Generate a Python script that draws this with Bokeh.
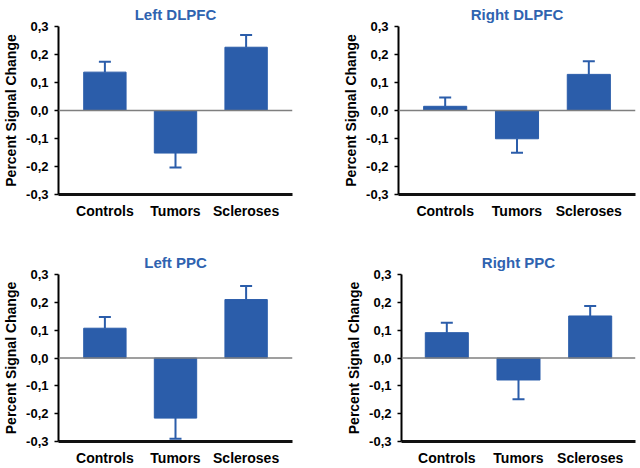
from bokeh.plotting import figure
from bokeh.models import Whisker, TeeHead, Span, ColumnDataSource, FixedTicker, FactorRange, Range1d
from bokeh.layouts import column, row
from bokeh.embed import file_html
from bokeh.resources import INLINE

categories = ["Controls", "Tumors", "Scleroses"]
panel_titles = ["Left DLPFC", "Right DLPFC", "Left PPC", "Right PPC"]

left_dlpfc_mean = [0.137, -0.152, 0.226]
left_dlpfc_err = [0.037, 0.052, 0.044]
right_dlpfc_mean = [0.015, -0.101, 0.129]
right_dlpfc_err = [0.031, 0.050, 0.047]
left_ppc_mean = [0.107, -0.216, 0.210]
left_ppc_err = [0.040, 0.074, 0.049]
right_ppc_mean = [0.091, -0.079, 0.151]
right_ppc_err = [0.036, 0.069, 0.036]

yticks = [-0.3, -0.2, -0.1, 0.0, 0.1, 0.2, 0.3]
ytick_labels = ["-0,3", "-0,2", "-0,1", "0,0", "0,1", "0,2", "0,3"]

BAR = "#2B5DAA"
TITLE_C = "#2F63B0"
FONT = "Liberation Sans"


def make_panel(title, means, errs, width, height, left, right, top, bottom, pad, standoff):
    p = figure(
        x_range=FactorRange(factors=categories, range_padding=pad, range_padding_units="absolute"),
        y_range=Range1d(-0.3, 0.3),
        width=width, height=height,
        output_backend="svg", toolbar_location=None,
        min_border_left=left, min_border_right=right,
        min_border_top=top, min_border_bottom=bottom,
    )
    p.vbar(x=categories, top=means, bottom=0, width=0.6, fill_color=BAR, line_color=BAR)

    pos = [i for i, m in enumerate(means) if m >= 0]
    neg = [i for i, m in enumerate(means) if m < 0]
    src_pos = ColumnDataSource(dict(
        base=[categories[i] for i in pos],
        lower=[means[i] for i in pos],
        upper=[means[i] + errs[i] for i in pos],
    ))
    src_neg = ColumnDataSource(dict(
        base=[categories[i] for i in neg],
        lower=[means[i] - errs[i] for i in neg],
        upper=[means[i] for i in neg],
    ))
    p.add_layout(Whisker(source=src_pos, base="base", lower="lower", upper="upper",
                         line_color=BAR, line_width=2,
                         upper_head=TeeHead(size=12, line_color=BAR, line_width=2),
                         lower_head=None))
    p.add_layout(Whisker(source=src_neg, base="base", lower="lower", upper="upper",
                         line_color=BAR, line_width=2,
                         lower_head=TeeHead(size=12, line_color=BAR, line_width=2),
                         upper_head=None))
    p.add_layout(Span(location=0, dimension="width", line_color="#7F7F7F", line_width=1.5))

    p.title.text = title
    p.title.align = "center"
    p.title.text_font = FONT
    p.title.text_font_style = "bold"
    p.title.text_font_size = "15px"
    p.title.text_color = TITLE_C
    p.title.standoff = standoff

    p.xgrid.visible = False
    p.ygrid.visible = False
    p.outline_line_color = None

    p.xaxis.axis_line_color = "#111111"
    p.xaxis.axis_line_width = 3
    p.yaxis.axis_line_color = "black"
    p.yaxis.axis_line_width = 2
    p.axis.minor_tick_line_color = None
    p.axis.major_label_text_font = FONT
    p.axis.major_label_text_font_style = "bold"
    p.axis.major_label_text_color = "black"

    p.xaxis.major_tick_line_color = None
    p.xaxis.major_tick_out = 5
    p.xaxis.major_label_standoff = 3
    p.xaxis.major_label_text_font_size = "14px"

    p.yaxis.ticker = FixedTicker(ticks=yticks)
    p.yaxis.major_label_overrides = dict(zip(yticks, ytick_labels))
    p.yaxis.major_tick_out = 4
    p.yaxis.major_tick_in = 0
    p.yaxis.major_tick_line_color = "black"
    p.yaxis.major_tick_line_width = 1.5
    p.yaxis.major_label_standoff = 6
    p.yaxis.major_label_text_font_size = "13px"
    p.yaxis.axis_label = "Percent Signal Change"
    p.yaxis.axis_label_text_font = FONT
    p.yaxis.axis_label_text_font_style = "bold"
    p.yaxis.axis_label_text_font_size = "14px"
    p.yaxis.axis_label_text_color = "black"
    p.yaxis.axis_label_standoff = 4
    return p


p1 = make_panel(panel_titles[0], left_dlpfc_mean, left_dlpfc_err, 320, 234, 55, 28, 25, 40, 0.157, 7)
p2 = make_panel(panel_titles[1], right_dlpfc_mean, right_dlpfc_err, 320, 234, 78, 5, 25, 40, 0.15, 7)
p3 = make_panel(panel_titles[2], left_ppc_mean, left_ppc_err, 320, 234, 55, 28, 40, 24, 0.157, 8)
p4 = make_panel(panel_titles[3], right_ppc_mean, right_ppc_err, 320, 234, 81, 5, 40, 24, 0.132, 8)

layout = column(row(p1, p2), row(p3, p4))

open("out.html", "w").write(file_html(layout, INLINE))
